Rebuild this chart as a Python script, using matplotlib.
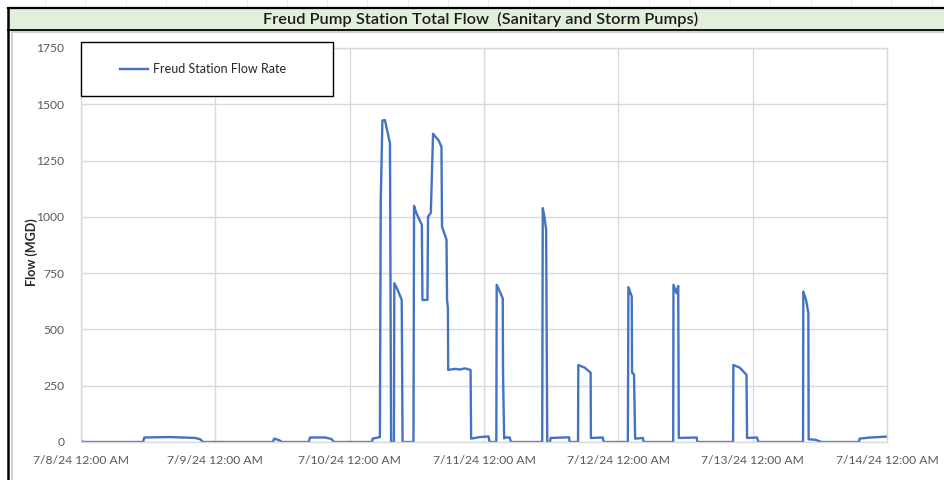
import matplotlib
matplotlib.use("Agg")
import matplotlib.pyplot as plt
from matplotlib.patches import Rectangle
from matplotlib.lines import Line2D
from matplotlib.ticker import FuncFormatter
import matplotlib.dates as mdates
from datetime import datetime, timedelta

plt.rcParams['font.family'] = ['Lato', 'DejaVu Sans']

# hours after 7/8/24 12:00 AM and flow (MGD)
hours = [0.0, 0.3, 7.4, 11.1, 11.3, 15.9, 20.4, 21.3, 21.8,
         34.3, 34.5, 35.4, 35.9, 40.7, 40.9, 43.6, 44.7, 45.2,
         52.0, 52.1, 52.7, 53.4, 53.55, 53.85, 54.3, 55.2, 55.4,
         55.9, 55.98, 56.5, 57.3, 57.45, 59.4, 59.5, 59.9, 60.9,
         61.0, 61.9, 62.0, 62.5, 62.9, 63.9, 64.4, 64.5, 65.3,
         65.4, 65.55, 65.6, 66.8, 67.7, 68.6, 69.6, 69.7, 71.3,
         72.8, 73.0, 74.2, 74.27, 74.7, 75.35, 75.4, 75.6, 75.7,
         76.6, 76.8, 82.4, 82.5, 82.8, 83.1, 83.3, 83.8, 83.9,
         87.2, 87.3, 88.8, 88.85, 90.0, 91.05, 91.1, 93.2, 93.4,
         97.7, 97.8, 98.4, 98.45, 98.8, 99.0, 100.4, 100.5,
         105.8, 105.85, 106.4, 106.7, 106.8, 110.0, 110.1,
         116.5, 116.55, 117.7, 118.9, 119.0, 120.8, 121.0,
         129.0, 129.05, 129.55, 129.95, 130.0, 131.2, 132.3,
         139.0, 139.1, 141.0, 144.0]
flow = [10, 0, 0, 0, 20, 22, 18, 12, 0,
        0, 15, 8, 0, 0, 20, 20, 14, 0,
        0, 15, 18, 22, 1068, 1428, 1430, 1327, 0,
        0, 705, 680, 631, 0, 0, 1049, 1018, 964,
        631, 631, 1001, 1018, 1369, 1339, 1312, 957, 898,
        631, 594, 320, 325, 322, 327, 320, 15, 22,
        25, 0, 0, 698, 675, 638, 305, 16, 20,
        20, 0, 0, 1039, 1000, 942, 0, 0, 18,
        21, 0, 0, 342, 330, 308, 18, 20, 0,
        0, 688, 646, 308, 300, 15, 18, 0,
        0, 698, 661, 693, 18, 20, 0,
        0, 342, 330, 298, 18, 20, 0,
        0, 668, 630, 572, 12, 10, 0,
        0, 15, 20, 24]

y_ticks = [0, 250, 500, 750, 1000, 1250, 1500, 1750]

start = datetime(2024, 7, 8)
times = [start + timedelta(hours=h) for h in hours]
days = [start + timedelta(days=d) for d in range(7)]

W, H = 944, 480


def fx(px):
    return px / W


def fy(py):
    return 1 - py / H


fig = plt.figure(figsize=(W / 100, H / 100), dpi=100)

# faint worksheet cell lines behind the chart object
x = 45.0
while x < W:
    fig.add_artist(Line2D([fx(x)] * 2, [1, fy(8)], color='#ededed', lw=0.6, zorder=-3))
    x += 40.3

# chart area + title band
fig.add_artist(Rectangle((fx(12), -0.1), 1, fy(32) + 0.1, transform=fig.transFigure,
                         fc='white', ec='#c8c8c8', lw=1.2, zorder=-2))
fig.add_artist(Rectangle((fx(8), fy(30)), 1, 22 / H, transform=fig.transFigure,
                         fc='#e2efda', ec='none', zorder=-1))
fig.add_artist(Line2D([fx(8), 1], [fy(8)] * 2, color='black', lw=1.6, zorder=-1))
fig.add_artist(Line2D([fx(8), 1], [fy(30)] * 2, color='black', lw=1.3, zorder=-1))
fig.add_artist(Line2D([fx(8)] * 2, [fy(8), 0], color='black', lw=1.8, zorder=-1))
fig.text(fx(481), fy(19.5), 'Freud Pump Station Total Flow  (Sanitary and Storm Pumps)',
         ha='center', va='center', fontsize=11.8, fontweight='semibold', color='#1a1a1a')

ax = fig.add_axes([fx(81), fy(442), fx(887) - fx(81), (442 - 48) / H])
ax.set_facecolor('white')
ax.plot(times, flow, color='#4472c4', lw=1.7, label='Freud Station Flow Rate',
        solid_joinstyle='round')
ax.set_xlim(days[0], days[-1])
ax.set_ylim(0, 1750)
ax.set_xticks(days)
ax.set_yticks(y_ticks)
ax.xaxis.set_major_formatter(FuncFormatter(
    lambda v, p: (lambda d: f"{d.month}/{d.day}/{d:%y} {d:%I:%M %p}")(mdates.num2date(v))))
ax.grid(color='#d9d9d9', lw=1)
ax.set_axisbelow(True)
for s in ax.spines.values():
    s.set_color('#d9d9d9')
    s.set_linewidth(1)
ax.tick_params(length=0, labelsize=8.7, labelcolor='#595959')
ax.tick_params(axis='y', pad=12)
ax.tick_params(axis='x', pad=9)

fig.text(fx(32), fy(252), 'Flow (MGD)', rotation=90, ha='center', va='center',
         fontsize=9, fontweight='bold', color='#262626')

# legend box
fig.add_artist(Rectangle((fx(81), fy(96)), 252 / W, 54 / H, transform=fig.transFigure,
                         fc='white', ec='black', lw=1, zorder=3))
handles, labels = ax.get_legend_handles_labels()
fig.legend(handles, labels, loc='center', bbox_to_anchor=(fx(203), fy(69)),
           frameon=False, fontsize=9, handlelength=2.3, handletextpad=0.4,
           labelcolor='#262626')

fig.savefig('out.png', dpi=100)
